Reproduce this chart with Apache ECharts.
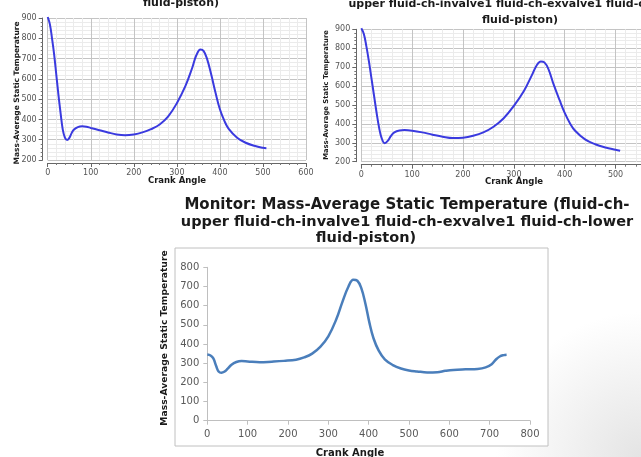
<!DOCTYPE html>
<html>
<head>
<meta charset="utf-8">
<script src="https://cdn.jsdelivr.net/npm/echarts@6.0.0/dist/echarts.min.js"></script>
<style>
html, body { margin: 0; padding: 0; background: #fff; }
#container { width: 641px; height: 457px; }
</style>
</head>
<body>
<div id="container"></div>
<script>
// top-left monitor plot
var angleA = [0, 5, 10, 15, 20, 25, 30, 35, 40, 45, 50, 55, 60, 70, 80, 90, 100, 120, 140, 160, 180, 200, 220, 240, 260, 280, 300, 320, 335, 345, 355, 362, 370, 380, 390, 400, 410, 420, 440, 460, 480, 500, 508];
var tempA = [905, 870, 800, 720, 620, 520, 430, 350, 310, 298, 308, 330, 348, 362, 366, 364, 358, 347, 336, 326, 322, 326, 336, 352, 375, 415, 480, 565, 650, 715, 745, 738, 700, 620, 530, 450, 395, 355, 310, 285, 270, 260, 258];

// top-right monitor plot
var angleB = [0, 5, 10, 15, 20, 25, 30, 35, 40, 46, 52, 58, 65, 75, 85, 100, 120, 140, 160, 180, 200, 220, 240, 260, 280, 300, 320, 335, 345, 353, 360, 368, 378, 390, 400, 410, 420, 440, 460, 480, 500, 509];
var tempB = [905, 875, 810, 730, 640, 550, 460, 380, 325, 298, 310, 335, 355, 365, 367, 364, 355, 343, 332, 325, 327, 337, 355, 385, 430, 495, 575, 655, 710, 730, 725, 690, 610, 525, 458, 405, 365, 318, 292, 275, 263, 258];

// bottom (excel) plot
var angleC = [0, 8, 15, 22, 28, 35, 42, 50, 60, 72, 85, 100, 130, 160, 190, 220, 240, 260, 280, 300, 320, 335, 350, 362, 372, 382, 392, 402, 412, 425, 440, 460, 480, 500, 520, 545, 570, 590, 610, 640, 670, 690, 705, 715, 725, 735, 742];
var tempC = [345, 340, 325, 285, 257, 250, 255, 270, 292, 306, 311, 309, 305, 308, 312, 318, 330, 350, 385, 440, 530, 620, 700, 735, 730, 690, 610, 510, 430, 365, 320, 290, 272, 262, 257, 252, 253, 260, 265, 268, 270, 278, 295, 318, 335, 342, 344];

var titleTop = 'upper fluid-ch-invalve1 fluid-ch-exvalve1 fluid-ch-lower';
var titleLines = ['Monitor: Mass-Average Static Temperature (fluid-ch-', 'upper fluid-ch-invalve1 fluid-ch-exvalve1 fluid-ch-lower', 'fluid-piston)'];
var yName = 'Mass-Average Static Temperature';
var xName = 'Crank Angle';

function pairs(xs, ys) {
    return xs.map(function (x, i) { return [x, ys[i]]; });
}

function fluentX(idx, max, showMax) {
    return {
        type: 'value', gridIndex: idx, min: 0, max: max, interval: 100, offset: 3,
        axisLine: { show: true, onZero: false, lineStyle: { color: '#666', width: 1 } },
        axisTick: { show: true, length: 4, lineStyle: { color: '#666' } },
        minorTick: { show: true, splitNumber: 5, length: 2, lineStyle: { color: '#777' } },
        splitLine: { show: true, lineStyle: { color: '#c4c4c4', width: 1 } },
        minorSplitLine: { show: true, lineStyle: { color: '#ebebeb', width: 1 } },
        axisLabel: { fontSize: 8, color: '#555', margin: 6, fontFamily: 'DejaVu Sans', showMaxLabel: showMax }
    };
}

function fluentY(idx) {
    return {
        type: 'value', gridIndex: idx, min: 200, max: 900, interval: 100, offset: 5,
        axisLine: { show: true, onZero: false, lineStyle: { color: '#666', width: 1 } },
        axisTick: { show: true, length: 4, lineStyle: { color: '#666' } },
        minorTick: { show: true, splitNumber: 5, length: 2, lineStyle: { color: '#777' } },
        splitLine: { show: true, lineStyle: { color: '#c4c4c4', width: 1 } },
        minorSplitLine: { show: true, lineStyle: { color: '#ebebeb', width: 1 } },
        axisLabel: { fontSize: 8, color: '#555', margin: 6, fontFamily: 'DejaVu Sans' }
    };
}

function txt(x, y, s, size, rot) {
    return {
        type: 'text', x: x, y: y, rotation: rot || 0, z: 10,
        style: {
            text: s, fill: '#1a1a1a', font: 'bold ' + size + 'px "DejaVu Sans"',
            textAlign: 'center', textVerticalAlign: 'middle'
        }
    };
}

var myChart = echarts.init(document.getElementById('container'));
var option = {
    animation: false,
    backgroundColor: '#fff',
    grid: [
        { left: 47.7, right: 335, top: 18, bottom: 297 },
        { left: 361.3, right: -1.7, top: 29.3, bottom: 295.3 },
        { left: 207.3, right: 111, top: 267.3, bottom: 36.3 }
    ],
    xAxis: [
        fluentX(0, 600, true),
        fluentX(1, 550, false),
        {
            type: 'value', gridIndex: 2, min: 0, max: 800, interval: 100,
            axisLine: { show: true, onZero: false, lineStyle: { color: '#bfbfbf' } },
            axisTick: { show: true, length: 4, lineStyle: { color: '#bfbfbf' } },
            splitLine: { show: false },
            axisLabel: { fontSize: 10, color: '#595959', margin: 9, fontFamily: 'DejaVu Sans' }
        }
    ],
    yAxis: [
        fluentY(0),
        fluentY(1),
        {
            type: 'value', gridIndex: 2, min: 0, max: 800, interval: 100,
            axisLine: { show: true, onZero: false, lineStyle: { color: '#bfbfbf' } },
            axisTick: { show: true, length: 4, lineStyle: { color: '#bfbfbf' } },
            splitLine: { show: false },
            axisLabel: { fontSize: 10, color: '#595959', margin: 8, fontFamily: 'DejaVu Sans' }
        }
    ],
    series: [
        {
            type: 'line', xAxisIndex: 0, yAxisIndex: 0, data: pairs(angleA, tempA),
            smooth: 0.4, showSymbol: false, clip: false,
            lineStyle: { color: '#3a3adf', width: 2 }
        },
        {
            type: 'line', xAxisIndex: 1, yAxisIndex: 1, data: pairs(angleB, tempB),
            smooth: 0.4, showSymbol: false, clip: false,
            lineStyle: { color: '#3a3adf', width: 2 }
        },
        {
            type: 'line', xAxisIndex: 2, yAxisIndex: 2, data: pairs(angleC, tempC),
            smooth: 0.4, showSymbol: false,
            lineStyle: { color: '#4a7ebb', width: 2.5 }
        }
    ],
    graphic: [
        {
            type: 'rect', shape: { x: 480, y: 200, width: 161, height: 257 }, z: -2, silent: true,
            style: {
                fill: new echarts.graphic.RadialGradient(1, 1, 0.9, [
                    { offset: 0, color: 'rgba(228,228,228,1)' },
                    { offset: 1, color: 'rgba(228,228,228,0)' }
                ])
            }
        },
        {
            type: 'rect', shape: { x: 175, y: 248, width: 373, height: 198 }, z: -1,
            style: { fill: '#fff', stroke: '#c0c0c0', lineWidth: 1 }
        },
        // top-left titles (clipped at the top edge)
        txt(181, 3, 'fluid-piston)', 11),
        txt(17, 93, yName, 7.5, Math.PI / 2),
        txt(177, 181, xName, 8.5),
        // top-right titles
        txt(520, 4, titleTop, 11),
        txt(520, 20, 'fluid-piston)', 11),
        txt(326, 95, yName, 6.8, Math.PI / 2),
        txt(514, 182, xName, 8.5),
        // bottom titles
        txt(407, 205, titleLines[0], 15),
        txt(407, 222, titleLines[1], 14.5),
        txt(366, 238, titleLines[2], 14.5),
        txt(165, 338, yName, 9.2, Math.PI / 2),
        txt(350, 453, xName, 10)
    ]
};
myChart.setOption(option);
</script>
</body>
</html>
